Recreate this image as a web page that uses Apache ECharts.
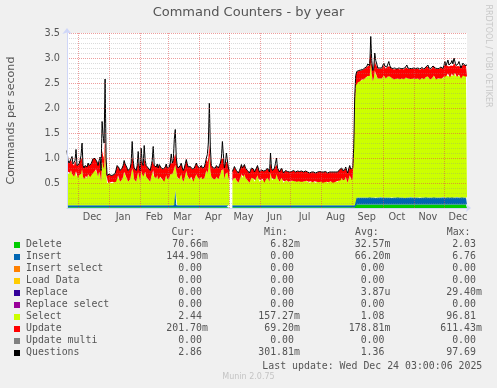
<!DOCTYPE html>
<html><head><meta charset="utf-8">
<script src="https://cdn.jsdelivr.net/npm/echarts@6/dist/echarts.min.js"></script>
<style>html,body{margin:0;padding:0;background:#F0F0F0}#c{width:497px;height:388px}</style>
</head><body><div id="c"></div>
<script>
// ---- categories / labels ----
const monthNames = ['Jan','Feb','Mar','Apr','May','Jun','Jul','Aug','Sep','Oct','Nov','Dec'];
const days = [];
(function(){ const t0 = Date.UTC(2024,10,20); for (let i=0;i<400;i++){ days.push(new Date(t0+i*86400000).toISOString().slice(0,10)); } })();

// ---- series values (daily, Nov 20 2024 .. Dec 24 2025) ----
const questions = [
1.15,0.95,0.9,0.93,0.98,1.03,0.88,0.85,0.95,1.17,0.85,0.82,0.88,0.95,1.05,1.3,0.85,0.8,0.85,0.87,
0.82,0.9,0.85,0.84,0.88,0.9,0.99,0.95,0.99,1.0,0.92,0.85,0.95,1.02,0.75,1.73,1.45,1.3,2.58,1.0,
0.65,0.66,0.68,0.67,0.65,0.68,0.66,0.67,0.69,0.68,0.85,0.88,0.8,0.75,0.78,0.8,0.85,0.95,0.88,0.85,
0.8,0.75,0.78,0.8,0.9,1.33,0.95,0.8,0.78,0.75,0.85,1.13,0.85,0.75,1.2,0.9,0.85,1.25,0.95,0.85,
0.82,0.8,0.78,0.75,0.85,0.95,1.23,0.85,0.85,0.82,0.88,0.8,0.87,0.85,0.8,0.8,0.78,0.75,0.82,0.88,
0.8,0.78,0.82,0.9,1.08,0.9,0.95,1.37,1.57,1.0,0.85,0.8,0.8,0.85,0.9,0.8,0.75,0.8,0.88,0.97,
0.88,0.82,0.8,0.83,0.85,0.78,0.75,0.8,0.85,0.9,0.85,0.82,0.8,0.83,0.85,0.8,0.78,0.82,0.9,1.0,
1.07,1.3,2.1,1.2,0.85,0.82,0.8,0.83,0.8,0.85,0.82,0.8,0.85,0.9,1.0,1.33,1.3,0.8,0.9,1.1,
1.13,0.8,0.75,null,null,0.73,0.78,0.83,0.8,0.75,0.72,0.7,0.75,0.8,0.87,0.8,0.82,0.87,0.8,0.78,
0.75,0.72,0.7,0.75,0.8,0.82,0.78,0.72,0.75,0.8,0.85,0.78,0.72,0.75,0.76,0.78,0.74,0.7,0.75,0.78,
0.8,0.76,0.72,1.1,0.8,0.75,0.77,0.8,0.78,1.0,0.8,0.76,0.72,0.76,0.8,0.75,0.7,0.73,0.75,0.75,
0.73,0.72,0.72,0.74,0.73,0.74,0.75,0.73,0.72,0.72,0.74,0.73,0.73,0.72,0.74,0.72,0.72,0.73,0.74,0.74,
0.72,0.72,0.7,0.73,0.72,0.71,0.72,0.73,0.7,0.72,0.72,0.71,0.73,0.72,0.72,0.7,0.72,0.71,0.73,0.72,
0.7,0.71,0.72,0.73,0.72,0.7,0.72,0.71,0.72,0.73,0.72,0.74,0.77,0.75,0.8,0.75,0.73,0.76,0.82,0.75,
0.7,0.78,0.85,0.78,0.75,0.8,1.2,2.23,2.65,2.73,2.72,2.75,2.74,2.76,2.78,2.77,2.78,2.8,2.82,2.83,
2.88,2.9,2.85,3.43,2.95,2.75,2.8,3.1,2.95,2.88,2.8,2.78,2.8,2.79,2.8,2.82,2.9,2.84,2.8,2.82,
2.85,2.93,2.85,2.8,2.82,2.79,2.78,2.8,2.79,2.78,2.79,2.8,2.78,2.79,2.8,2.79,2.78,2.8,2.82,2.86,
2.8,2.78,2.79,2.8,2.79,2.78,2.8,2.82,2.79,2.78,2.8,2.79,2.78,2.8,2.81,2.79,2.78,2.8,2.82,2.84,
2.86,2.8,2.78,2.79,2.8,2.84,2.87,2.8,2.78,2.79,2.8,2.79,2.8,2.82,2.8,2.79,2.85,2.93,2.85,2.9,
2.96,2.86,2.82,2.9,2.95,2.88,3.0,3.0,2.85,2.82,2.88,2.93,2.86,2.8,2.85,2.9,2.93,2.85,2.88,2.86];

const selects = [
0.67,0.67,0.62,0.65,0.7,0.63,0.6,0.57,0.67,0.68,0.57,0.54,0.6,0.67,0.63,0.72,0.57,0.52,0.57,0.59,
0.54,0.62,0.57,0.56,0.6,0.62,0.71,0.67,0.71,0.72,0.64,0.57,0.67,0.62,0.47,0.87,0.77,0.72,1.17,0.62,
0.44,0.45,0.47,0.46,0.44,0.47,0.45,0.46,0.48,0.47,0.57,0.6,0.52,0.47,0.5,0.52,0.57,0.67,0.6,0.57,
0.52,0.47,0.5,0.52,0.62,0.73,0.67,0.52,0.5,0.47,0.57,0.66,0.57,0.47,0.69,0.62,0.57,0.7,0.67,0.57,
0.54,0.52,0.5,0.47,0.57,0.67,0.7,0.57,0.57,0.54,0.6,0.52,0.59,0.57,0.52,0.52,0.5,0.47,0.54,0.6,
0.52,0.5,0.54,0.62,0.64,0.62,0.67,0.74,0.5,0.68,0.57,0.52,0.52,0.57,0.62,0.52,0.47,0.52,0.6,0.69,
0.6,0.54,0.52,0.55,0.57,0.5,0.47,0.52,0.57,0.62,0.57,0.54,0.52,0.55,0.57,0.52,0.5,0.54,0.62,0.7,
0.64,0.72,1.0,0.69,0.57,0.54,0.52,0.55,0.52,0.57,0.54,0.52,0.57,0.62,0.7,0.73,0.72,0.52,0.62,0.65,
0.66,0.55,0.5,null,null,0.48,0.53,0.58,0.55,0.5,0.47,0.45,0.5,0.55,0.62,0.55,0.57,0.62,0.55,0.53,
0.5,0.47,0.45,0.5,0.55,0.57,0.53,0.47,0.5,0.55,0.6,0.53,0.47,0.5,0.51,0.53,0.49,0.45,0.5,0.53,
0.55,0.51,0.47,0.65,0.55,0.5,0.52,0.55,0.53,0.62,0.55,0.51,0.47,0.51,0.55,0.5,0.45,0.48,0.5,0.5,
0.48,0.47,0.47,0.49,0.48,0.49,0.5,0.48,0.47,0.47,0.49,0.48,0.48,0.47,0.49,0.47,0.47,0.48,0.49,0.49,
0.47,0.47,0.45,0.48,0.47,0.46,0.47,0.48,0.45,0.47,0.47,0.46,0.48,0.47,0.47,0.45,0.47,0.46,0.48,0.47,
0.45,0.46,0.47,0.48,0.47,0.45,0.47,0.46,0.47,0.48,0.47,0.49,0.52,0.5,0.55,0.5,0.48,0.51,0.57,0.5,
0.45,0.53,0.6,0.53,0.5,0.55,0.98,1.97,2.23,2.31,2.3,2.33,2.32,2.34,2.36,2.35,2.36,2.38,2.4,2.41,
2.43,2.44,2.42,2.7,2.47,2.33,2.38,2.54,2.47,2.43,2.38,2.36,2.38,2.37,2.38,2.4,2.44,2.42,2.38,2.4,
2.42,2.46,2.42,2.38,2.4,2.37,2.36,2.38,2.37,2.36,2.37,2.38,2.36,2.37,2.38,2.37,2.36,2.38,2.4,2.42,
2.38,2.36,2.37,2.38,2.37,2.36,2.38,2.4,2.37,2.36,2.38,2.37,2.36,2.38,2.39,2.37,2.36,2.38,2.4,2.42,
2.42,2.38,2.36,2.37,2.38,2.42,2.43,2.38,2.36,2.37,2.38,2.37,2.38,2.4,2.38,2.37,2.42,2.46,2.42,2.44,
2.47,2.42,2.4,2.44,2.47,2.43,2.49,2.49,2.42,2.4,2.43,2.46,2.42,2.38,2.42,2.44,2.46,2.42,2.43,2.42];

const updates = [
0.22,0.22,0.22,0.22,0.22,0.22,0.22,0.22,0.22,0.22,0.22,0.22,0.22,0.22,0.22,0.22,0.22,0.22,0.22,0.22,
0.22,0.22,0.22,0.22,0.22,0.22,0.22,0.22,0.22,0.22,0.22,0.22,0.22,0.22,0.22,0.22,0.22,0.22,0.22,0.22,
0.15,0.15,0.15,0.15,0.15,0.15,0.15,0.15,0.15,0.15,0.22,0.22,0.22,0.22,0.22,0.22,0.22,0.22,0.22,0.22,
0.22,0.22,0.22,0.22,0.22,0.22,0.22,0.22,0.22,0.22,0.22,0.22,0.22,0.22,0.22,0.22,0.22,0.22,0.22,0.22,
0.22,0.22,0.22,0.22,0.22,0.22,0.22,0.22,0.22,0.22,0.22,0.22,0.22,0.22,0.22,0.22,0.22,0.22,0.22,0.22,
0.22,0.22,0.22,0.22,0.22,0.22,0.22,0.22,0.22,0.22,0.22,0.22,0.22,0.22,0.22,0.22,0.22,0.22,0.22,0.22,
0.22,0.22,0.22,0.22,0.22,0.22,0.22,0.22,0.22,0.22,0.22,0.22,0.22,0.22,0.22,0.22,0.22,0.22,0.22,0.22,
0.22,0.22,0.22,0.22,0.22,0.22,0.22,0.22,0.22,0.22,0.22,0.22,0.22,0.22,0.22,0.22,0.22,0.22,0.22,0.22,
0.22,0.19,0.19,null,null,0.19,0.19,0.19,0.19,0.19,0.19,0.19,0.19,0.19,0.19,0.19,0.19,0.19,0.19,0.19,
0.19,0.19,0.19,0.19,0.19,0.19,0.19,0.19,0.19,0.19,0.19,0.19,0.19,0.19,0.19,0.19,0.19,0.19,0.19,0.19,
0.19,0.19,0.19,0.19,0.19,0.19,0.19,0.19,0.19,0.19,0.19,0.19,0.19,0.19,0.19,0.19,0.19,0.19,0.19,0.19,
0.19,0.19,0.19,0.19,0.19,0.19,0.19,0.19,0.19,0.19,0.19,0.19,0.19,0.19,0.19,0.19,0.19,0.19,0.19,0.19,
0.19,0.19,0.19,0.19,0.19,0.19,0.19,0.19,0.19,0.19,0.19,0.19,0.19,0.19,0.19,0.19,0.19,0.19,0.19,0.19,
0.19,0.19,0.19,0.19,0.19,0.19,0.19,0.19,0.19,0.19,0.19,0.19,0.19,0.19,0.19,0.19,0.19,0.19,0.19,0.19,
0.19,0.19,0.19,0.19,0.19,0.19,0.15,0.2,0.2,0.2,0.2,0.2,0.2,0.2,0.2,0.2,0.2,0.2,0.2,0.2,
0.2,0.2,0.2,0.2,0.2,0.2,0.2,0.2,0.2,0.2,0.2,0.2,0.2,0.2,0.2,0.2,0.2,0.2,0.2,0.2,
0.2,0.2,0.2,0.2,0.2,0.2,0.2,0.2,0.2,0.2,0.2,0.2,0.2,0.2,0.2,0.2,0.2,0.2,0.2,0.2,
0.2,0.2,0.2,0.2,0.2,0.2,0.2,0.2,0.2,0.2,0.2,0.2,0.2,0.2,0.2,0.2,0.2,0.2,0.2,0.2,
0.2,0.2,0.2,0.2,0.2,0.2,0.2,0.2,0.2,0.2,0.2,0.2,0.2,0.2,0.2,0.2,0.2,0.2,0.2,0.2,
0.2,0.2,0.2,0.2,0.2,0.2,0.2,0.2,0.2,0.2,0.2,0.2,0.2,0.2,0.2,0.2,0.2,0.2,0.2,0.2];

const deletes = [
0.015,0.015,0.015,0.015,0.015,0.015,0.015,0.015,0.015,0.015,0.015,0.015,0.015,0.015,0.015,0.015,0.015,0.015,0.015,0.015,
0.015,0.015,0.015,0.015,0.015,0.015,0.015,0.015,0.015,0.015,0.015,0.015,0.015,0.015,0.015,0.015,0.015,0.015,0.015,0.015,
0.015,0.015,0.015,0.015,0.015,0.015,0.015,0.015,0.015,0.015,0.015,0.015,0.015,0.015,0.015,0.015,0.015,0.015,0.015,0.015,
0.015,0.015,0.015,0.015,0.015,0.015,0.015,0.015,0.015,0.015,0.015,0.015,0.015,0.015,0.015,0.015,0.015,0.015,0.015,0.015,
0.015,0.015,0.015,0.015,0.015,0.015,0.015,0.015,0.015,0.015,0.015,0.015,0.015,0.015,0.015,0.015,0.015,0.015,0.015,0.015,
0.015,0.015,0.015,0.015,0.015,0.015,0.015,0.015,0.015,0.015,0.015,0.015,0.015,0.015,0.015,0.015,0.015,0.015,0.015,0.015,
0.015,0.015,0.015,0.015,0.015,0.015,0.015,0.015,0.015,0.015,0.015,0.015,0.015,0.015,0.015,0.015,0.015,0.015,0.015,0.015,
0.015,0.015,0.015,0.015,0.015,0.015,0.015,0.015,0.015,0.015,0.015,0.015,0.015,0.015,0.015,0.015,0.015,0.015,0.015,0.015,
0.015,0.015,0.015,null,null,0.015,0.015,0.015,0.015,0.015,0.015,0.015,0.015,0.015,0.015,0.015,0.015,0.015,0.015,0.015,
0.015,0.015,0.015,0.015,0.015,0.015,0.015,0.015,0.015,0.015,0.015,0.015,0.015,0.015,0.015,0.015,0.015,0.015,0.015,0.015,
0.015,0.015,0.015,0.015,0.015,0.015,0.015,0.015,0.015,0.015,0.015,0.015,0.015,0.015,0.015,0.015,0.015,0.015,0.015,0.015,
0.015,0.015,0.015,0.015,0.015,0.015,0.015,0.015,0.015,0.015,0.015,0.015,0.015,0.015,0.015,0.015,0.015,0.015,0.015,0.015,
0.015,0.015,0.015,0.015,0.015,0.015,0.015,0.015,0.015,0.015,0.015,0.015,0.015,0.015,0.015,0.015,0.015,0.015,0.015,0.015,
0.015,0.015,0.015,0.015,0.015,0.015,0.015,0.015,0.015,0.015,0.015,0.015,0.015,0.015,0.015,0.015,0.015,0.015,0.015,0.015,
0.015,0.015,0.015,0.015,0.015,0.015,0.015,0.015,0.07,0.07,0.07,0.07,0.07,0.07,0.07,0.07,0.07,0.07,0.07,0.07,
0.07,0.07,0.07,0.07,0.07,0.07,0.07,0.07,0.07,0.07,0.07,0.07,0.07,0.07,0.07,0.07,0.07,0.07,0.07,0.07,
0.07,0.07,0.07,0.07,0.07,0.07,0.07,0.07,0.07,0.07,0.07,0.07,0.07,0.07,0.07,0.07,0.07,0.07,0.07,0.07,
0.07,0.07,0.07,0.07,0.07,0.07,0.07,0.07,0.07,0.07,0.07,0.07,0.07,0.07,0.07,0.07,0.07,0.07,0.07,0.07,
0.07,0.07,0.07,0.07,0.07,0.07,0.07,0.07,0.07,0.07,0.07,0.07,0.07,0.07,0.07,0.07,0.07,0.07,0.07,0.07,
0.07,0.07,0.07,0.07,0.07,0.07,0.07,0.07,0.07,0.07,0.07,0.07,0.07,0.07,0.07,0.07,0.07,0.07,0.07,0.07];

const inserts = [
0.04,0.04,0.04,0.04,0.04,0.04,0.04,0.04,0.04,0.04,0.04,0.04,0.04,0.04,0.04,0.04,0.04,0.04,0.04,0.04,
0.04,0.04,0.04,0.04,0.04,0.04,0.04,0.04,0.04,0.04,0.04,0.04,0.04,0.04,0.04,0.04,0.04,0.04,0.04,0.04,
0.04,0.04,0.04,0.04,0.04,0.04,0.04,0.04,0.04,0.04,0.04,0.04,0.04,0.04,0.04,0.04,0.04,0.04,0.04,0.04,
0.04,0.04,0.04,0.04,0.04,0.04,0.04,0.04,0.04,0.04,0.04,0.04,0.04,0.04,0.04,0.04,0.04,0.04,0.04,0.04,
0.04,0.04,0.04,0.04,0.04,0.04,0.04,0.04,0.04,0.04,0.04,0.04,0.04,0.04,0.04,0.04,0.04,0.04,0.04,0.04,
0.04,0.04,0.04,0.04,0.04,0.04,0.04,0.04,0.35,0.04,0.04,0.04,0.04,0.04,0.04,0.04,0.04,0.04,0.04,0.04,
0.04,0.04,0.04,0.04,0.04,0.04,0.04,0.04,0.04,0.04,0.04,0.04,0.04,0.04,0.04,0.04,0.04,0.04,0.04,0.04,
0.04,0.04,0.04,0.04,0.04,0.04,0.04,0.04,0.04,0.04,0.04,0.04,0.04,0.04,0.04,0.04,0.04,0.04,0.04,0.04,
0.04,0.04,0.04,null,null,0.04,0.04,0.04,0.04,0.04,0.04,0.04,0.04,0.04,0.04,0.04,0.04,0.04,0.04,0.04,
0.04,0.04,0.04,0.04,0.04,0.04,0.04,0.04,0.04,0.04,0.04,0.04,0.04,0.04,0.04,0.04,0.04,0.04,0.04,0.04,
0.04,0.04,0.04,0.04,0.04,0.04,0.04,0.04,0.04,0.04,0.04,0.04,0.04,0.04,0.04,0.04,0.04,0.04,0.04,0.04,
0.04,0.04,0.04,0.04,0.04,0.04,0.04,0.04,0.04,0.04,0.04,0.04,0.04,0.04,0.04,0.04,0.04,0.04,0.04,0.04,
0.04,0.04,0.04,0.04,0.04,0.04,0.04,0.04,0.04,0.04,0.04,0.04,0.04,0.04,0.04,0.04,0.04,0.04,0.04,0.04,
0.04,0.04,0.04,0.04,0.04,0.04,0.04,0.04,0.04,0.04,0.04,0.04,0.04,0.04,0.04,0.04,0.04,0.04,0.04,0.04,
0.04,0.04,0.04,0.04,0.04,0.04,0.04,0.04,0.14,0.14,0.14,0.14,0.14,0.14,0.14,0.14,0.14,0.14,0.14,0.14,
0.14,0.14,0.15,0.14,0.14,0.14,0.14,0.14,0.13,0.14,0.14,0.14,0.14,0.15,0.14,0.14,0.14,0.14,0.14,0.14,
0.14,0.14,0.14,0.14,0.13,0.14,0.14,0.14,0.14,0.14,0.15,0.14,0.14,0.14,0.14,0.14,0.14,0.13,0.14,0.14,
0.14,0.14,0.14,0.15,0.14,0.14,0.14,0.14,0.14,0.14,0.14,0.14,0.13,0.14,0.14,0.14,0.14,0.14,0.15,0.14,
0.14,0.14,0.14,0.14,0.14,0.14,0.15,0.14,0.14,0.14,0.14,0.14,0.14,0.14,0.14,0.15,0.14,0.14,0.14,0.14,
0.15,0.14,0.14,0.14,0.15,0.14,0.14,0.14,0.14,0.15,0.14,0.14,0.14,0.14,0.15,0.14,0.14,0.14,0.14,0.14];

// ---- legend table ----
const legendNames  = ['Delete','Insert','Insert select','Load Data','Replace','Replace select','Select','Update','Update multi','Questions'];
const legendColors = ['#00CC00','#0066B3','#FF8000','#FFCC00','#330099','#990099','#CCFF00','#FF0000','#808080','#000000'];
const curVals = ['70.66m','144.90m','0.00','0.00','0.00','0.00','2.44','201.70m','0.00','2.86'];
const minVals = ['6.82m','0.00','0.00','0.00','0.00','0.00','157.27m','69.20m','0.00','301.81m'];
const avgVals = ['32.57m','66.20m','0.00','0.00','3.87u','0.00','1.08','178.81m','0.00','1.36'];
const maxVals = ['2.03','6.76','0.00','0.00','29.40m','0.00','96.81','611.43m','0.00','97.69'];
const colHeaders = ['Cur:','Min:','Avg:','Max:'];
const lastUpdate = 'Last update: Wed Dec 24 03:00:06 2025';

const MONO = '9.9px "DejaVu Sans Mono"';
const CW = 5.96;
const ROW0 = 244.7, ROWH = 12;
const colRight = [202, 294, 384.5, 476];
const headX = [171.5, 264, 355, 446.7];
const TXT = '#555';

const g = [];
function txt(text, x, y, font, fill, align, valign, extra) {
  const el = { type:'text', x:x, y:y, silent:true,
    style:{ text:text, x:0, y:0, font:font, fill:fill, align:align, verticalAlign:valign, textAlign:align, textVerticalAlign:valign } };
  if (extra) Object.assign(el, extra);
  g.push(el);
}
colHeaders.forEach((h,j)=> txt(h, headX[j], ROW0-ROWH, MONO, TXT, 'left', 'middle'));
const cols = [curVals, minVals, avgVals, maxVals];
legendNames.forEach((n,k)=>{
  const y = ROW0 + k*ROWH;
  g.push({ type:'rect', silent:true, shape:{ x:14, y:Math.round(y-3), width:6, height:6 }, style:{ fill:legendColors[k] } });
  txt(n, 26, y, MONO, TXT, 'left', 'middle');
  cols.forEach((arr,j)=>{
    const v = arr[k];
    const num = v.replace(/[a-zA-Z]$/, '');
    txt(v, colRight[j] - num.length*CW, y, MONO, TXT, 'left', 'middle');
  });
});
txt(lastUpdate, 482.3, 366, MONO, TXT, 'right', 'middle');
txt('Munin 2.0.75', 248.5, 376.7, '8px "DejaVu Sans"', '#c4c4c4', 'center', 'middle');
txt('RRDTOOL / TOBI OETIKER', 488.5, 4.5, '8px "DejaVu Sans"', '#c8c8c8', 'left', 'middle', { rotation: -Math.PI/2 });
txt('Commands per second', 11, 120.5, '11.1px "DejaVu Sans"', '#555', 'center', 'middle', { rotation: Math.PI/2 });

const areaSeries = (name, data, color) => ({
  name, type:'line', stack:'total', data, symbol:'none', showSymbol:false, connectNulls:false,
  lineStyle:{ width:0, color }, itemStyle:{ color }, areaStyle:{ color, opacity:1 }, z:2
});

const chart = echarts.init(document.getElementById('c'), null, { renderer:'canvas' });
chart.setOption({
  animation:false,
  backgroundColor:'#F0F0F0',
  title:{ text:'Command Counters - by year', left:'center', top:6, padding:0,
    textStyle:{ fontSize:13, fontWeight:'normal', color:'#555', fontFamily:'DejaVu Sans' } },
  grid:{ left:67, top:33, width:400, height:175, show:true, backgroundColor:'#ffffff', borderWidth:0, containLabel:false },
  xAxis:{
    type:'category', data:days, boundaryGap:false, z:3,
    axisLine:{ show:true, lineStyle:{ color:'#CFD6F8', width:1 }, symbol:['none','arrow'], symbolSize:[6,5], symbolOffset:[0,4] },
    axisTick:{ show:false },
    axisLabel:{ interval:(i,v)=> v.slice(8)==='15', formatter:(v)=> monthNames[parseInt(v.slice(5,7),10)-1],
      color:'#555', fontSize:9.7, fontFamily:'DejaVu Sans', margin:4 },
    splitLine:{ show:true, interval:(i,v)=> v.slice(8)==='01', lineStyle:{ color:'rgba(222,79,79,0.55)', width:1, type:[1,1] } }
  },
  yAxis:{
    type:'value', min:0, max:3.5, interval:0.5, z:3,
    axisLine:{ show:true, lineStyle:{ color:'#CFD6F8', width:1 }, symbol:['none','arrow'], symbolSize:[7,6], symbolOffset:[0,5] },
    axisTick:{ show:false },
    axisLabel:{ formatter:(v)=> v===0 ? '' : v.toFixed(1), color:'#555', fontSize:9.7, fontFamily:'DejaVu Sans', margin:7 },
    splitLine:{ show:true, lineStyle:{ color:'rgba(222,79,79,0.55)', width:1, type:[1,1] } },
    minorTick:{ show:false, splitNumber:5 },
    minorSplitLine:{ show:true, lineStyle:{ color:'rgba(143,143,143,0.32)', width:1, type:[1,1] } }
  },
  series:[
    areaSeries('Delete', deletes, '#00CC00'),
    areaSeries('Insert', inserts, '#0066B3'),
    areaSeries('Select', selects, '#CCFF00'),
    areaSeries('Update', updates, '#FF0000'),
    { name:'Questions', type:'line', data:questions, symbol:'none', showSymbol:false, connectNulls:false,
      lineStyle:{ color:'#000000', width:1 }, itemStyle:{ color:'#000' }, z:2 }
  ],
  graphic:{ elements:g }
});
</script>
</body></html>
